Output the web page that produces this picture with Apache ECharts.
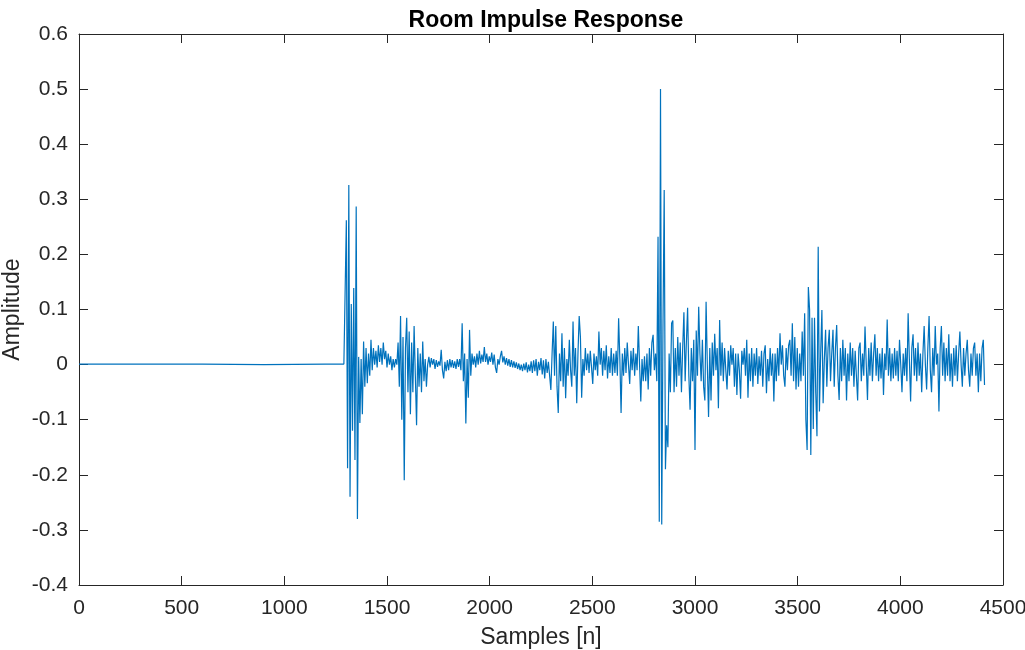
<!DOCTYPE html>
<html>
<head>
<meta charset="utf-8">
<script src="https://cdn.jsdelivr.net/npm/echarts@6/dist/echarts.min.js"></script>
<style>
html,body{margin:0;padding:0;background:#fff;}
#chart{width:1025px;height:650px;}
</style>
</head>
<body>
<div id="chart"></div>
<script>
// ---- data ----
const titleText = 'Room Impulse Response';
const xName = 'Samples [n]';
const yName = 'Amplitude';
const xTicks = [0, 500, 1000, 1500, 2000, 2500, 3000, 3500, 4000, 4500];
const yTicks = [-0.4, -0.3, -0.2, -0.1, 0, 0.1, 0.2, 0.3, 0.4, 0.5, 0.6];

// quiet part before the direct sound
const preSamples = [0, 300, 600, 900, 1200, 1290];
const preAmp = [0.001, 0.001, 0.001, 0.0, 0.001, 0.001];

// active part: one value every 6 samples from sample 1296
const startSample = 1296;
const sampleStep = 6;
const amp = [
 // 1296-1398
 0.0, 0.262, -0.188, 0.326, -0.24, 0.11, -0.12, 0.139, -0.173, 0.287, -0.28, 0.014, -0.106, 0.01, -0.09, 0.042, -0.04, 0.03,
 // 1404-1548
 -0.034, 0.02, -0.02, 0.045, -0.01, 0.03, 0.0, 0.025, -0.005, 0.035, 0.005, 0.03, 0.0, 0.04, 0.01, 0.025, -0.005, 0.02, 0.0, 0.015, -0.01, 0.01, -0.005, 0.01, 0.0,
 // 1554-1698
 0.04, -0.04, 0.088, -0.1, 0.05, -0.21, 0.03, 0.085, -0.05, 0.06, -0.09, 0.04, -0.05, 0.07, -0.02, -0.11, 0.03, -0.04, 0.02, -0.05, 0.042, -0.03, 0.01, -0.04, 0.0,
 // 1704-1848
 0.014, -0.005, 0.012, 0.0, 0.01, -0.008, 0.008, -0.004, 0.006, -0.002, 0.027, -0.01, -0.025, 0.005, -0.012, 0.008, -0.01, 0.01, -0.005, 0.008, -0.006, 0.006, -0.008, 0.01, -0.004,
 // 1854-1998
 0.01, -0.01, 0.075, -0.03, 0.02, -0.107, 0.01, -0.06, 0.063, -0.02, 0.02, 0.0, 0.015, -0.005, 0.02, 0.0, 0.025, 0.002, 0.018, 0.005, 0.032, 0.005, 0.02, 0.0, 0.015,
 // 2004-2148
 0.005, 0.022, 0.0, 0.018, -0.005, -0.015, 0.01, 0.0, 0.015, 0.025, 0.004, 0.015, 0.0, 0.012, -0.002, 0.01, -0.004, 0.008, -0.005, 0.006, -0.006, 0.004, -0.008, 0.002, -0.01,
 // 2154-2298
 0.0, -0.012, 0.002, -0.01, 0.004, -0.014, 0.0, -0.012, 0.006, -0.015, 0.008, -0.012, 0.01, -0.02, 0.005, -0.01, 0.012, -0.018, 0.008, -0.025, 0.01, -0.015, 0.005, -0.02, -0.046,
 // 2304-2448
 0.02, 0.078, -0.02, 0.07, -0.04, -0.088, 0.02, -0.03, 0.057, -0.04, 0.03, -0.061, 0.01, -0.02, 0.045, -0.01, -0.04, 0.078, -0.02, 0.03, -0.07, 0.02, 0.088, 0.05, -0.06,
 // 2454-2598
 0.01, -0.02, 0.03, -0.01, 0.02, -0.015, 0.025, -0.005, -0.035, 0.02, -0.01, 0.015, -0.02, 0.06, 0.0, 0.03, -0.02, 0.025, -0.01, 0.035, -0.025, 0.015, -0.015, 0.03, -0.02,
 // 2604-2748
 0.02, -0.015, 0.025, -0.02, 0.084, 0.01, -0.088, 0.02, -0.02, 0.03, -0.015, 0.04, 0.0, -0.035, 0.025, -0.01, 0.03, -0.02, 0.02, -0.01, 0.07, 0.0, -0.067, 0.01, -0.03,
 // 2754-2898
 0.015, -0.03, 0.02, -0.045, 0.03, -0.02, 0.04, 0.054, -0.01, 0.02, -0.03, 0.232, -0.285, 0.5, -0.29, 0.066, 0.317, -0.19, -0.11, -0.15, 0.02, -0.05, 0.075, 0.08, -0.05,
 // 2904-3048
 0.03, -0.04, 0.05, -0.02, 0.04, -0.05, 0.03, 0.095, -0.03, 0.04, 0.103, -0.02, -0.082, 0.03, -0.03, 0.045, -0.155, 0.062, -0.02, 0.105, 0.02, -0.03, 0.045, -0.04, -0.065,
 // 3054-3198
 0.114, 0.0, -0.095, 0.03, -0.065, 0.04, -0.02, 0.056, -0.01, 0.03, -0.079, 0.081, -0.02, 0.04, -0.03, 0.03, -0.01, -0.045, 0.025, -0.02, 0.035, 0.0, 0.03, -0.04, 0.02,
 // 3204-3348
 -0.055, 0.02, -0.01, -0.062, 0.025, 0.0, 0.03, -0.02, 0.045, -0.06, 0.02, -0.03, 0.03, -0.04, 0.02, -0.02, 0.03, -0.035, 0.015, -0.02, 0.025, -0.04, 0.02, 0.035, -0.052,
 // 3354-3498
 0.01, -0.03, 0.03, -0.02, 0.02, -0.067, 0.02, -0.03, 0.03, -0.02, 0.057, 0.0, 0.035, -0.02, -0.04, 0.03, -0.01, 0.035, 0.045, -0.02, 0.075, -0.03, 0.05, -0.045, 0.03,
 // 3504-3648
 -0.04, 0.02, -0.03, 0.06, -0.02, 0.093, -0.1, -0.155, 0.141, 0.1, -0.164, 0.085, -0.117, 0.085, -0.05, -0.13, 0.214, -0.085, 0.02, 0.099, -0.07, 0.01, 0.063, -0.04, 0.03,
 // 3654-3798
 0.063, -0.03, 0.02, 0.063, -0.04, 0.03, 0.072, -0.02, -0.064, 0.03, -0.03, 0.045, -0.02, 0.03, -0.065, 0.02, -0.03, 0.04, -0.02, 0.03, -0.04, 0.025, -0.02, -0.065, 0.03,
 // 3804-3948
 0.04, -0.03, 0.02, -0.02, 0.069, 0.0, -0.064, 0.03, -0.02, 0.04, -0.03, 0.02, 0.055, -0.02, 0.03, -0.03, 0.02, -0.025, 0.03, -0.055, 0.02, -0.01, 0.082, -0.02, 0.03,
 // 3954-4098
 -0.03, 0.02, -0.025, 0.03, -0.02, 0.025, -0.03, 0.045, 0.0, -0.05, 0.02, -0.02, 0.03, -0.03, 0.093, 0.01, -0.067, 0.03, 0.055, -0.02, 0.03, -0.03, 0.04, -0.02, 0.02,
 // 4104-4248
 -0.05, 0.02, 0.07, 0.0, -0.045, 0.03, 0.088, -0.01, -0.05, 0.03, -0.02, 0.07, 0.0, 0.02, -0.085, 0.03, 0.07, -0.02, 0.04, -0.03, 0.03, -0.02, 0.055, -0.03, 0.02,
 // 4254-4410
 -0.04, 0.03, -0.02, 0.035, -0.03, 0.02, 0.06, 0.0, -0.04, 0.03, -0.02, 0.02, 0.045, -0.01, -0.04, 0.02, -0.02, 0.03, 0.04, -0.02, 0.02, -0.05, 0.02, -0.03, 0.03, 0.045, -0.037
];

// ---- build series data ----
const seriesData = preSamples.map((s, i) => [s, preAmp[i]])
  .concat(amp.map((v, i) => [startSample + i * sampleStep, v]));

const axisColor = '#262626';
const fontFam = '"Liberation Sans", Arial, Helvetica, sans-serif';
const xMin = xTicks[0], xMax = xTicks[xTicks.length - 1], xInt = xTicks[1] - xTicks[0];
const yMin = yTicks[0], yMax = yTicks[yTicks.length - 1], yInt = 0.1;

function baseAxis(extra) {
  return Object.assign({
    axisLine: { show: true, onZero: false, lineStyle: { color: axisColor, width: 1 } },
    axisTick: { show: true, inside: true, length: 9, lineStyle: { color: axisColor, width: 1 } },
    splitLine: { show: false },
    axisLabel: { color: axisColor, fontSize: 21, fontFamily: fontFam }
  }, extra);
}

const chart = echarts.init(document.getElementById('chart'), null, { renderer: 'canvas' });
chart.setOption({
  animation: false,
  backgroundColor: '#ffffff',
  title: {
    text: titleText, left: 541, top: 4, textAlign: 'center',
    textStyle: { fontSize: 23, fontWeight: 'bold', color: '#000', fontFamily: fontFam }
  },
  grid: { left: 79, right: 22, top: 34, bottom: 65, containLabel: false, outerBoundsMode: 'none' },
  xAxis: [
    baseAxis({ type: 'value', min: xMin, max: xMax, interval: xInt, position: 'bottom',
      name: xName, nameLocation: 'middle', nameGap: 41, nameMoveOverlap: false,
      nameTextStyle: { fontSize: 23, color: axisColor, fontFamily: fontFam },
      axisLabel: { color: axisColor, fontSize: 21, fontFamily: fontFam, margin: 13,
        formatter: v => String(v) } }),
    baseAxis({ type: 'value', min: xMin, max: xMax, interval: xInt, position: 'top',
      axisLabel: { show: false } })
  ],
  yAxis: [
    baseAxis({ type: 'value', min: yMin, max: yMax, interval: yInt, position: 'left',
      name: yName, nameLocation: 'middle', nameGap: 55, nameMoveOverlap: false,
      nameTextStyle: { fontSize: 23, color: axisColor, fontFamily: fontFam },
      axisLabel: { color: axisColor, fontSize: 21, fontFamily: fontFam, margin: 11,
        formatter: v => String(Math.round(v * 10) / 10) } }),
    baseAxis({ type: 'value', min: yMin, max: yMax, interval: yInt, position: 'right',
      axisLabel: { show: false } })
  ],
  series: [{
    type: 'line',
    data: seriesData,
    xAxisIndex: 0, yAxisIndex: 0,
    showSymbol: false, symbol: 'none',
    sampling: false,
    lineStyle: { color: '#0072BD', width: 1.2 },
    clip: true
  }]
});
</script>
</body>
</html>
